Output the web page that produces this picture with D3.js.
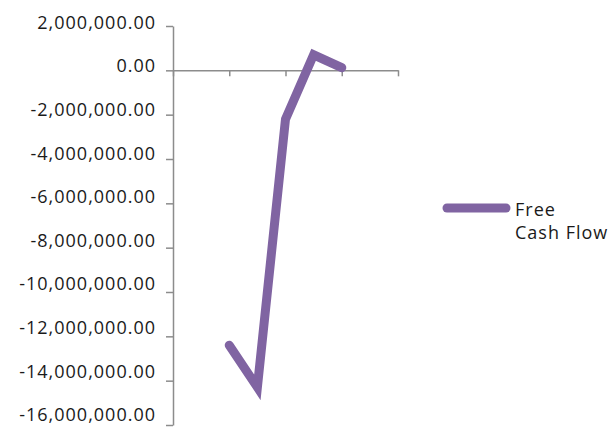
<!DOCTYPE html>
<html>
<head>
<meta charset="utf-8">
<script src="https://cdn.jsdelivr.net/npm/d3@7"></script>
<style>
  body { margin: 0; background: #fff; }
  text { font-family: "Open Sans", sans-serif; fill: #1a1a1a; }
</style>
</head>
<body>
<div id="chart"></div>
<script>
// chart size
var svgWidth = 613;
var svgHeight = 432;

// data (9 category slots, only 5 hold values)
var slots = [0, 1, 2, 3, 4, 5, 6, 7, 8];
var freeCashFlow = [null, null, -12400000, -14300000, -2200000, 700000, 120000, null, null];
var xTickSlots = [0, 2, 4, 6, 8];
var yTicks = [2000000, 0, -2000000, -4000000, -6000000, -8000000, -10000000, -12000000, -14000000, -16000000];
var seriesName = ["Free", "Cash Flow"];

var purple = "#8064a2";
var axisGray = "#8c8c8c";
var fontSize = "18px";
var spacing = "1px";

var svg = d3.select("#chart")
  .append("svg")
  .attr("width", svgWidth)
  .attr("height", svgHeight);

// scales
var xScale = d3.scalePoint()
  .domain(slots)
  .range([173, 398]);

var yScale = d3.scaleLinear()
  .domain([-16000000, 2000000])
  .range([425, 26]);

var locale = d3.formatLocale({decimal: ".", thousands: ",", grouping: [3], currency: ["", ""], minus: "-"});
var fmt = locale.format(",.2f");

// y axis
var leftAxis = d3.axisLeft(yScale)
  .tickValues(yTicks)
  .tickFormat(fmt)
  .tickSize(7)
  .tickPadding(10)
  .tickSizeOuter(0);

var yAxisG = svg.append("g")
  .attr("transform", "translate(173,0)")
  .call(leftAxis);
yAxisG.select(".domain").attr("stroke", axisGray).attr("stroke-width", 1.5);
yAxisG.selectAll(".tick line").attr("stroke", axisGray).attr("stroke-width", 1.5);
yAxisG.selectAll(".tick text")
  .attr("font-size", fontSize)
  .attr("letter-spacing", spacing)
  .attr("font-family", "Open Sans, sans-serif")
  .attr("fill", "#1a1a1a")
  .attr("dy", null)
  .attr("y", function(d, i) { return 2.3 - 0.73 * i; });

// x axis at zero, no labels
var bottomAxis = d3.axisBottom(xScale)
  .tickValues(xTickSlots)
  .tickFormat("")
  .tickSize(6)
  .tickSizeOuter(0);

var xAxisG = svg.append("g")
  .attr("transform", "translate(0," + yScale(0) + ")")
  .call(bottomAxis);
xAxisG.select(".domain").attr("stroke", axisGray).attr("stroke-width", 1.5);
xAxisG.selectAll(".tick line").attr("stroke", axisGray).attr("stroke-width", 1.5);

// line
var line = d3.line()
  .defined(function(d) { return d !== null; })
  .x(function(d, i) { return xScale(slots[i]); })
  .y(function(d) { return yScale(d); });

svg.append("path")
  .datum(freeCashFlow)
  .attr("d", line)
  .attr("fill", "none")
  .attr("stroke", purple)
  .attr("stroke-width", 9)
  .attr("stroke-linecap", "round")
  .attr("stroke-linejoin", "miter")
  .attr("stroke-miterlimit", 10);

// legend
var legend = svg.append("g");
legend.append("line")
  .attr("x1", 447).attr("x2", 506)
  .attr("y1", 208).attr("y2", 208)
  .attr("stroke", purple)
  .attr("stroke-width", 9)
  .attr("stroke-linecap", "round");

legend.append("text")
  .attr("x", 515)
  .attr("y", 216)
  .attr("font-size", fontSize)
  .attr("letter-spacing", spacing)
  .selectAll("tspan")
  .data(seriesName)
  .enter()
  .append("tspan")
  .attr("x", 515)
  .attr("dy", function(d, i) { return i === 0 ? 0 : 23; })
  .text(function(d) { return d; });
</script>
</body>
</html>
